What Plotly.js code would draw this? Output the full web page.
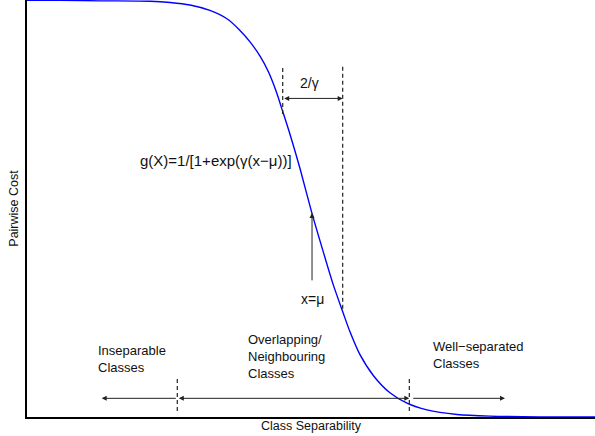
<!DOCTYPE html>
<html>
<head>
<meta charset="utf-8">
<script src="https://cdn.plot.ly/plotly-3.0.1.min.js"></script>
<style>html,body{margin:0;padding:0;background:#fff;}#chart{width:595px;height:436px;}</style>
</head>
<body>
<div id="chart"></div>
<script>
// Curve points (x: class separability, y: pairwise cost)
const separability = [0, 0.58, 1.29, 2.17, 2.52, 2.87, 3.22, 3.52, 3.75, 3.93, 4.10, 4.25, 4.40, 4.48, 4.63, 4.81, 5.01, 5.19, 5.39, 5.57, 5.69, 5.86, 6.10, 6.39, 6.69, 7.04, 7.57, 8.15, 9.03, 10];
const pairwiseCost = [0.999, 0.999, 0.998, 0.997, 0.994, 0.988, 0.975, 0.955, 0.927, 0.899, 0.866, 0.828, 0.776, 0.742, 0.678, 0.594, 0.492, 0.408, 0.318, 0.248, 0.203, 0.150, 0.099, 0.058, 0.033, 0.017, 0.006, 0.002, 0.0003, 0.0];

const regionLabels = ["Inseparable<br>Classes", "Overlapping/<br>Neighbouring<br>Classes", "Well\u2212separated<br>Classes"];
const formulaLabel = "g(X)=1/[1+exp(\u03b3(x\u2212\u03bc))]";
const widthLabel = "2/\u03b3";
const muLabel = "x=\u03bc";

const FONT = "Liberation Sans, Arial, Helvetica, sans-serif";
const ink = "#222";

const trace = {
  x: separability, y: pairwiseCost, type: "scatter", mode: "lines",
  line: {color: "#0000ff", width: 1.4, shape: "spline", smoothing: 0.8},
  hoverinfo: "skip"
};

function arrow(x, y, ax, ay, both) {
  return {x: x, y: y, ax: ax, ay: ay, xref: "x", yref: "y", axref: "x", ayref: "y",
    text: "", showarrow: true, arrowhead: 2, arrowsize: 1, arrowwidth: 1, arrowcolor: ink,
    startarrowhead: 2, startarrowsize: 1, arrowside: both ? "end+start" : "end",
    standoff: 0, startstandoff: 0};
}
function label(x, y, text, anchor, size) {
  return {x: x, y: y, xref: "x", yref: "y", text: text, showarrow: false,
    xanchor: anchor, yanchor: "middle", align: "left",
    font: {family: FONT, size: size, color: "#111"}};
}
function vdash(x, y0, y1) {
  return {type: "line", xref: "x", yref: "y", x0: x, x1: x, y0: y0, y1: y1,
    line: {color: ink, width: 1.2, dash: "4px,3px"}};
}

const layout = {
  width: 595, height: 436,
  margin: {l: 27, r: 0, t: 0, b: 19},
  paper_bgcolor: "#fff", plot_bgcolor: "#fff",
  showlegend: false,
  font: {family: FONT, size: 12.5, color: "#111"},
  xaxis: {range: [0, 10], showgrid: false, zeroline: false, showticklabels: false, ticks: "",
    showline: true, linecolor: "#000", linewidth: 1.6, mirror: false, automargin: false,
    title: {text: "Class Separability", font: {family: FONT, size: 12.5, color: "#111"}, standoff: 3}},
  yaxis: {range: [0, 1], showgrid: false, zeroline: false, showticklabels: false, ticks: "",
    showline: true, linecolor: "#000", linewidth: 1.6, mirror: false, automargin: false,
    title: {text: "Pairwise Cost", font: {family: FONT, size: 12.5, color: "#111"}, standoff: 4}},
  shapes: [
    vdash(4.502, 0.837, 0.724),
    vdash(5.558, 0.840, 0.257),
    vdash(2.646, 0.091, 0.010),
    vdash(6.731, 0.091, 0.010)
  ],
  annotations: [
    arrow(5.558, 0.764, 4.502, 0.764, true),
    label(4.982, 0.801, widthLabel, "center", 14),
    label(3.327, 0.614, formulaLabel, "center", 15),
    arrow(5.018, 0.489, 5.018, 0.324, false),
    label(5.018, 0.283, muLabel, "center", 14),
    arrow(1.315, 0.0448, 2.646, 0.0448, false),
    arrow(6.731, 0.0448, 2.646, 0.0448, true),
    arrow(8.415, 0.0448, 6.773, 0.0448, false),
    label(1.215, 0.140, regionLabels[0], "left", 13),
    label(3.856, 0.144, regionLabels[1], "left", 13),
    label(7.107, 0.149, regionLabels[2], "left", 13)
  ]
};

Plotly.newPlot("chart", [trace], layout, {staticPlot: true, displayModeBar: false});
</script>
</body>
</html>
